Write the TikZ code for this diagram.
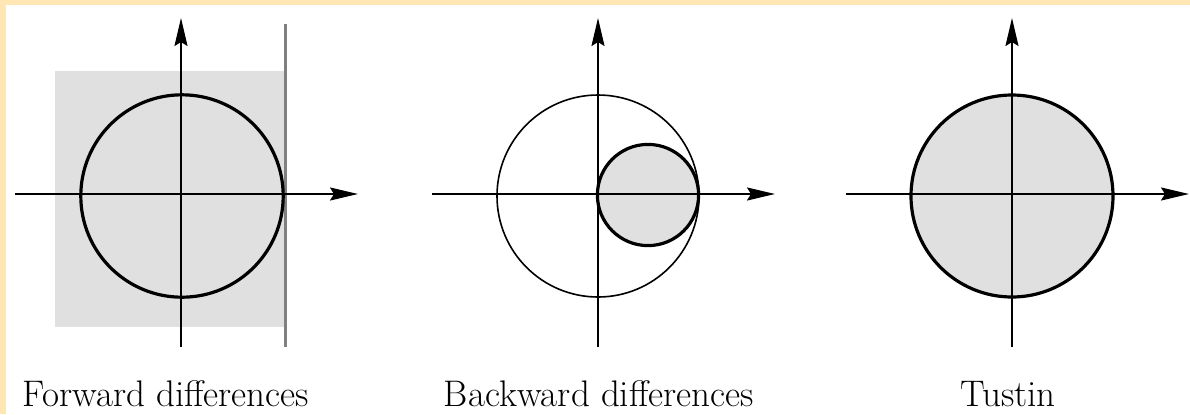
\documentclass[tikz,border=0pt]{standalone}
\usetikzlibrary{arrows.meta}
\definecolor{framecol}{RGB}{255,230,178}
\definecolor{regioncol}{RGB}{224,224,224}
\tikzset{every picture/.style={line width=1pt}}

\begin{document}
\begin{tikzpicture}[x=0.5pt, y=-0.5pt, >={Stealth[length=14pt, width=6.5pt, inset=2pt]},
        axis/.style={->, line width=1pt},
        bound/.style={line width=1.6pt},
        every node/.style={font=\fontsize{18.5}{22}\selectfont}]
        % frame
        \fill[framecol] (0,0) rectangle (1190,414);
        \fill[white] (6,5) rectangle (1190,414);
        % stable regions
        \fill[regioncol] (55,71) rectangle (284,327);
        \draw[gray, line width=1.5pt] (285,24) -- (285,347);
        \draw[bound, fill=regioncol] (1012,196) circle[radius=50.5pt];
        \draw[line width=0.8pt] (598,196) circle[radius=50.5pt];
        \draw[bound, fill=regioncol] (648,195) circle[radius=25.3pt];
        % axes
        \foreach \cx in {181, 598, 1012} {
            \draw[axis] (\cx-166,194) -- (\cx+177,194);
            \draw[axis] (\cx,347) -- (\cx,18);
        }
        \draw[bound] (182,196) circle[radius=50.6pt];
        \node[anchor=base] (fwd) at (166,406) {Forward differences};
        \node[anchor=base] (bwd) at (599,406) {Backward differences};
        \node[anchor=base] (tus) at (1008,406) {Tustin};
    \end{tikzpicture}
\end{document}
